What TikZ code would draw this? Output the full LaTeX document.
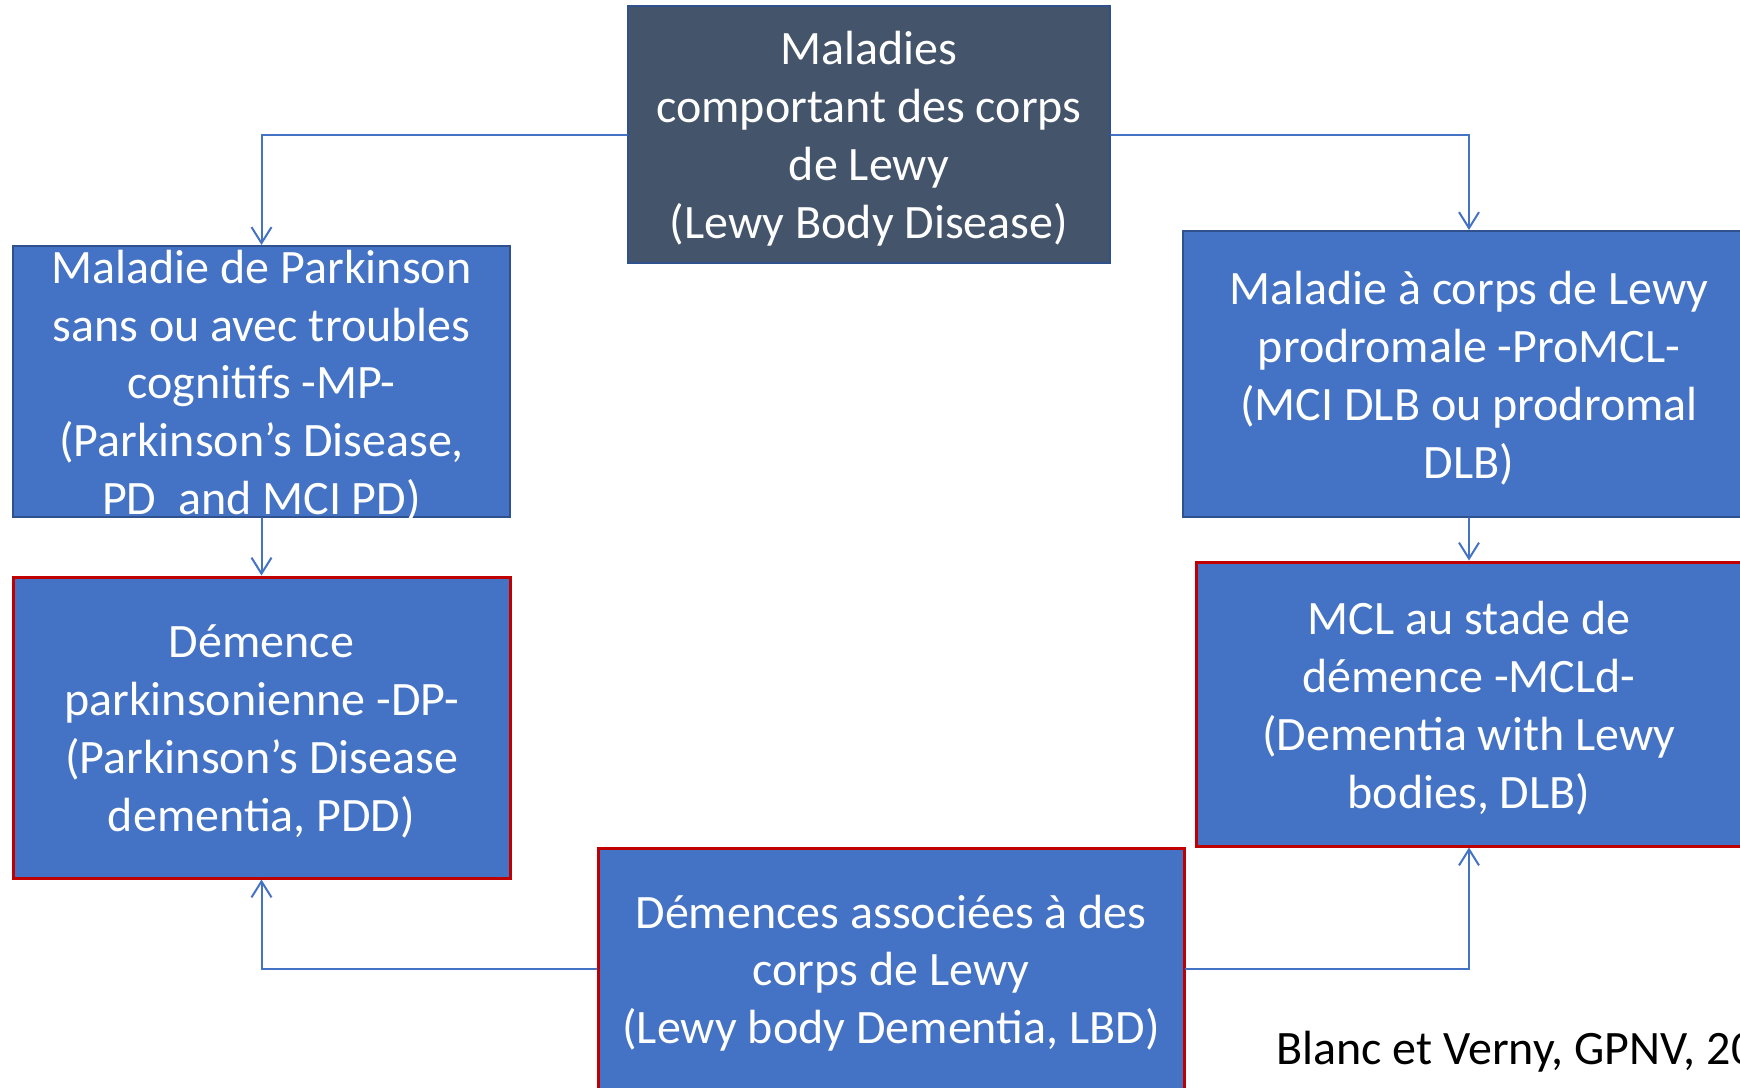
\documentclass[tikz,border=0pt]{standalone}
\usepackage{fontspec}
\setmainfont{Carlito}
\usepackage{xcolor}
\usetikzlibrary{arrows.meta}
\definecolor{boxblue}{HTML}{4472C4}
\definecolor{boxslate}{HTML}{44546A}
\definecolor{edgeblue}{HTML}{2F528F}
\definecolor{edgered}{HTML}{C00000}

\tikzset{
  boxtext/.style={text=white, align=center, yshift=-2pt, font=\fontsize{24}{28.9}\selectfont},
  lewybox/.style={rectangle, fill=boxblue, draw=edgeblue, line width=1pt, inner sep=0pt},
  redbox/.style={lewybox, draw=edgered, line width=1.5pt},
  link/.style={draw=boxblue, line width=1pt, -{Straight Barb[length=8pt,width=10pt]}}
}

\begin{document}
\begin{tikzpicture}[x=0.5pt, y=-0.5pt, line cap=round]
  \useasboundingbox (0,0) rectangle (1740,1087);

  % Boxes
  \node[lewybox, fill=boxslate, minimum width=241pt, minimum height=128.5pt,
    label={[boxtext]center:Maladies\\comportant des corps\\de Lewy\\(Lewy Body Disease)}]
    (lbdis) at (869,134.5) {};
  \node[lewybox, minimum width=248.5pt, minimum height=135.5pt,
    label={[boxtext]center:Maladie de Parkinson\\sans ou avec troubles\\cognitifs -MP-\\(Parkinson’s Disease,\\PD\ \ and MCI PD)}]
    (mp) at (261.5,381.5) {};
  \node[redbox, minimum width=248.5pt, minimum height=150.5pt,
    label={[boxtext]center:Démence\\parkinsonienne -DP-\\(Parkinson’s Disease\\dementia, PDD)}]
    (dp) at (261.5,727.5) {};
  \node[lewybox, minimum width=286pt, minimum height=143pt,
    label={[boxtext]center:Maladie à corps de Lewy\\prodromale -ProMCL-\\(MCI DLB ou prodromal\\DLB)}]
    (promcl) at (1469,374) {};
  \node[redbox, minimum width=273pt, minimum height=142pt,
    label={[boxtext]center:MCL au stade de\\démence -MCLd-\\(Dementia with Lewy\\bodies, DLB)}]
    (mcld) at (1469,704) {};
  \node[redbox, minimum width=293pt, minimum height=121pt,
    label={[boxtext]center:Démences associées à des\\corps de Lewy\\(Lewy body Dementia, LBD)}]
    (lbd) at (891,969) {};

  % Reference
  \node[anchor=west, inner sep=0pt, font=\fontsize{24}{28.9}\selectfont] (cite) at (1276,1052) {Blanc et Verny, GPNV, 20};

  % Arrows
  \draw[link] (lbdis.west) -| (mp.north);
  \draw[link] (lbdis.east) -| (promcl.north);
  \draw[link] (mp.south) -- (dp.north);
  \draw[link] (promcl.south) -- (mcld.north);
  \draw[link] (lbd.west) -| (dp.south);
  \draw[link] (lbd.east) -| (mcld.south);
\end{tikzpicture}
\end{document}
